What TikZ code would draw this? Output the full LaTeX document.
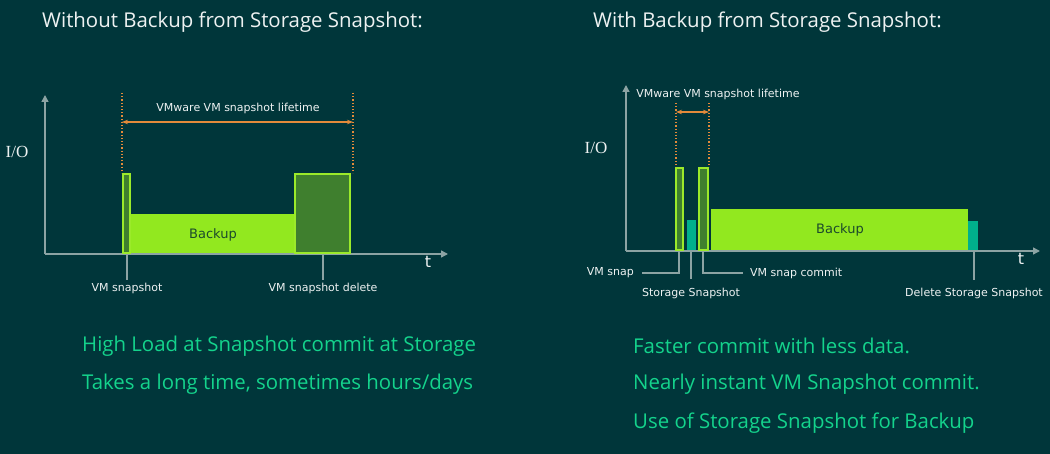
\documentclass[tikz,border=0pt]{standalone}
\usepackage{fontspec}
\setmainfont{Open Sans}
\newfontfamily\lblfont{DejaVu Sans}
\newfontfamily\iofont{Liberation Serif}
\usepackage{xcolor}
\usepackage{tikz}
\usetikzlibrary{arrows.meta,positioning}
\definecolor{bgteal}{HTML}{00363A}
\definecolor{titlegray}{HTML}{EEF2F2}
\definecolor{notegreen}{HTML}{14D38C}
\definecolor{axisgray}{HTML}{8CA3A3}
\definecolor{lifeorange}{HTML}{E38A3A}
\definecolor{backgreen}{HTML}{92E81F}
\definecolor{snapgreen}{HTML}{3F7F2E}
\definecolor{edgegreen}{HTML}{9BEA2A}
\definecolor{storteal}{HTML}{00B08C}
\definecolor{backtext}{HTML}{1C4A2C}

\begin{document}
\begin{tikzpicture}[x=1pt, y=-1pt,
  title/.style={font=\fontsize{20.4}{24}\selectfont, text=titlegray, anchor=west, inner sep=0pt},
  note/.style={font=\fontsize{20.4}{24}\selectfont, text=notegreen, anchor=west, inner sep=0pt},
  lbl/.style={font=\lblfont\fontsize{11}{13}\selectfont, text=titlegray},
  iolbl/.style={font=\iofont\fontsize{17}{20}\selectfont, text=titlegray},
  tlbl/.style={font=\lblfont\fontsize{16}{18}\selectfont, text=titlegray},
  backlbl/.style={font=\lblfont\fontsize{13}{15}\selectfont, text=backtext},
  axis/.style={draw=axisgray, line width=1.5pt, -{Triangle[length=7pt, width=7pt]}},
  tick/.style={draw=axisgray, line width=1.5pt},
  life/.style={draw=lifeorange, line width=1.2pt, dotted},
  span/.style={draw=lifeorange, line width=1.5pt, {Stealth[length=6pt]}-{Stealth[length=6pt]}},
  snapbar/.style={fill=snapgreen, draw=edgegreen, line width=1.5pt},
  backbar/.style={fill=backgreen},
  storbar/.style={fill=storteal}]
  \fill[bgteal] (0,0) rectangle (1050,454);
  \useasboundingbox (0,0) rectangle (1050,454);

  % left: without storage snapshot
  \node[title] (ltitle) at (42,22) {Without Backup from Storage Snapshot:};
  \coordinate (lorig) at (45,254);
  \coordinate (lytop) at (45,95);
  \coordinate (lxend) at (448,254);
  \draw[axis] (lorig) -- (lytop);
  \draw[axis] (lorig) -- (lxend);
  \node[iolbl] (lio) at (17,152) {I/O};
  \node[tlbl] (lt) at (428,262) {t};
  \fill[backbar] (131,214) rectangle (294,253);
  \node[backlbl] (lbackup) at (213,235) {Backup};
  \draw[snapbar] (123,174) rectangle (130,253);
  \draw[snapbar] (295,174) rectangle (350,253);
  \draw[life] (122,93) -- (122,173);
  \draw[life] (353,93) -- (353,173);
  \coordinate (lspana) at (122,122);
  \coordinate (lspanb) at (353,122);
  \draw[span] (lspana) -- (lspanb);
  \node[lbl] (llife) at (238,108) {VMware VM snapshot lifetime};
  \draw[tick] (127,254) -- (127,280) coordinate (ltick1);
  \node[lbl, below=0pt of ltick1] (lsnap) {VM snapshot};
  \draw[tick] (323,254) -- (323,280) coordinate (ltick2);
  \node[lbl, below=0pt of ltick2] (ldel) {VM snapshot delete};
  \node[note] (lnote1) at (82,346) {High Load at Snapshot commit at Storage};
  \node[note] (lnote2) at (82,384) {Takes a long time, sometimes hours/days};

  % right: with storage snapshot
  \node[title] (rtitle) at (593,22) {With Backup from Storage Snapshot:};
  \coordinate (rorig) at (626,251);
  \coordinate (rytop) at (626,85);
  \coordinate (rxend) at (1040,251);
  \draw[axis] (rorig) -- (rytop);
  \draw[axis] (rorig) -- (rxend);
  \node[iolbl] (rio) at (596,148) {I/O};
  \node[tlbl] (rt) at (1021,259) {t};
  \fill[backbar] (711,209) rectangle (968,250);
  \node[backlbl] (rbackup) at (840,230) {Backup};
  \fill[storbar] (687,220) rectangle (696,250);
  \fill[storbar] (968,221) rectangle (978,250);
  \draw[snapbar] (676,168) rectangle (683,250);
  \draw[snapbar] (699,168) rectangle (708,250);
  \draw[life] (676,103) -- (676,167);
  \draw[life] (709,103) -- (709,167);
  \coordinate (rspana) at (676,112);
  \coordinate (rspanb) at (709,112);
  \draw[span] (rspana) -- (rspanb);
  \node[lbl] (rlife) at (718,94) {VMware VM snapshot lifetime};
  \node[lbl, anchor=east, inner xsep=8pt] (rsnap) at (642,273) {VM snap};
  \draw[tick] (679,251) |- (rsnap.east);
  \node[lbl, anchor=west, inner xsep=7pt] (rcommit) at (743,273) {VM snap commit};
  \draw[tick] (703,251) |- (rcommit.west);
  \draw[tick] (691,251) -- (691,279) coordinate (rtick1);
  \node[lbl, below=6pt of rtick1] (rstor) {Storage Snapshot};
  \draw[tick] (974,251) -- (974,280) coordinate (rtick2);
  \node[lbl, below=5pt of rtick2] (rdel) {Delete Storage Snapshot};
  \node[note] (rnote1) at (633,346) {Faster commit with less data.};
  \node[note] (rnote2) at (633,384) {Nearly instant VM Snapshot commit.};
  \node[note] (rnote3) at (633,423) {Use of Storage Snapshot for Backup};
\end{tikzpicture}
\end{document}
